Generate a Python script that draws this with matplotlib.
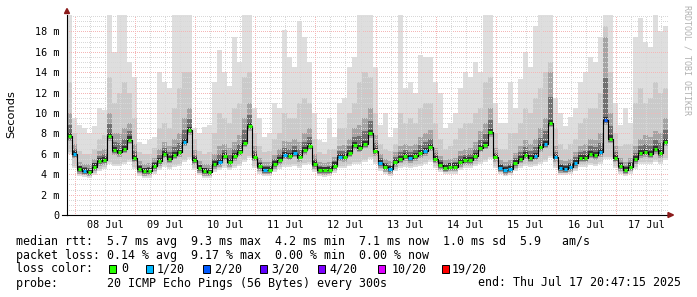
import numpy as np
import matplotlib
matplotlib.use("Agg")
import matplotlib.pyplot as plt
import matplotlib.dates as mdates
from matplotlib.patches import Rectangle, Polygon
from datetime import datetime, timedelta

# ──────────────────────────────────────────────
# Data: 2-hour consolidated steps, 10 days (one row = 24 h)
# ──────────────────────────────────────────────
start = datetime(2025, 7, 7, 20, 47, 15)
end = datetime(2025, 7, 17, 20, 47, 15)
STEP_H = 2

median_ms = [
    7.7, 6.0, 4.5, 4.35, 4.25, 4.75, 5.3, 5.4, 7.75, 6.35, 6.15, 6.5,
    7.4, 5.6, 4.55, 4.3, 4.35, 4.8, 5.3, 6.0, 5.5, 5.9, 6.15, 7.2,
    8.3, 5.4, 4.6, 4.3, 4.25, 5.0, 5.2, 5.8, 5.2, 5.75, 6.2, 7.1,
    8.7, 5.7, 4.8, 4.45, 4.45, 5.0, 5.4, 5.9, 5.8, 6.1, 5.65, 6.35,
    6.8, 5.0, 4.45, 4.4, 4.45, 4.85, 5.7, 5.65, 6.1, 6.85, 6.6, 7.0,
    8.0, 6.25, 5.1, 4.7, 4.5, 5.2, 5.5, 5.75, 5.55, 5.75, 6.05, 6.25,
    6.7, 5.5, 4.9, 4.65, 4.75, 4.75, 5.2, 5.35, 5.4, 5.75, 6.6, 6.9,
    8.1, 5.65, 4.65, 4.4, 4.55, 5.1, 5.5, 5.9, 5.6, 5.8, 6.65, 7.0,
    9.05, 5.65, 4.6, 4.55, 4.7, 5.1, 5.6, 5.6, 6.0, 5.85, 6.15, 9.3,
    7.5, 5.6, 4.8, 4.45, 4.75, 5.45, 6.05, 6.15, 6.0, 6.45, 6.05, 7.2,
]

# lost pings out of 20 per step
loss = [
    0, 1, 0, 1, 0, 0, 0, 0, 0, 0, 0, 0,
    0, 0, 0, 0, 0, 0, 0, 0, 0, 0, 0, 1,
    0, 0, 0, 0, 0, 0, 1, 0, 0, 0, 0, 0,
    0, 0, 0, 1, 0, 0, 0, 1, 0, 1, 0, 0,
    0, 0, 0, 0, 0, 0, 1, 0, 0, 0, 0, 0,
    0, 0, 1, 0, 1, 0, 0, 0, 1, 0, 0, 1,
    0, 0, 0, 0, 0, 0, 0, 0, 0, 0, 0, 0,
    0, 0, 1, 1, 1, 0, 0, 0, 0, 1, 0, 1,
    0, 1, 1, 1, 1, 1, 0, 0, 0, 0, 1, 2,
    0, 0, 0, 0, 0, 0, 0, 0, 0, 0, 0, 0,
]

smoke_lo = [
    6.0, 4.6, 3.8, 3.7, 3.6, 3.9, 4.3, 4.5, 5.0, 4.8, 4.8, 5.0,
    5.2, 4.5, 3.8, 3.6, 3.6, 4.0, 4.4, 4.7, 4.5, 4.7, 4.8, 5.2,
    5.5, 4.4, 3.9, 3.6, 3.6, 4.2, 4.4, 4.6, 4.4, 4.6, 4.8, 5.2,
    5.6, 4.6, 4.0, 3.8, 3.8, 4.2, 4.5, 4.7, 4.7, 4.8, 4.6, 4.9,
    5.0, 4.2, 3.8, 3.7, 3.8, 4.1, 4.6, 4.6, 4.8, 5.0, 5.0, 5.2,
    5.5, 5.0, 4.3, 4.0, 3.8, 4.3, 4.6, 4.7, 4.6, 4.7, 4.8, 5.0,
    5.2, 4.6, 4.2, 4.0, 4.0, 4.0, 4.4, 4.6, 4.6, 4.8, 5.0, 5.2,
    5.5, 4.6, 4.0, 3.8, 3.9, 4.3, 4.6, 4.8, 4.7, 4.8, 5.0, 5.2,
    5.6, 4.6, 3.9, 3.9, 4.0, 4.3, 4.7, 4.7, 4.9, 4.8, 5.0, 5.5,
    5.5, 4.6, 4.0, 3.8, 4.0, 4.5, 5.0, 5.0, 5.0, 5.2, 5.0, 5.4,
]

smoke_q1 = [
    10.0, 7.0, 5.2, 5.0, 5.0, 5.5, 6.3, 6.5, 10.0, 8.0, 8.0, 8.5,
    9.0, 7.0, 5.3, 5.0, 5.1, 5.6, 6.5, 7.2, 6.8, 7.5, 8.0, 9.5,
    10.5, 6.4, 5.3, 5.0, 5.0, 6.0, 6.8, 7.0, 6.6, 7.2, 7.8, 9.5,
    11.0, 6.8, 5.6, 5.2, 5.2, 5.9, 6.5, 7.3, 7.2, 7.5, 7.2, 8.0,
    8.5, 6.0, 5.2, 5.1, 5.2, 5.7, 6.8, 6.9, 7.5, 8.5, 8.8, 9.5,
    10.5, 7.8, 6.0, 5.5, 5.3, 6.2, 6.8, 7.0, 6.8, 7.0, 7.6, 8.0,
    8.3, 6.6, 5.8, 5.4, 5.5, 5.6, 6.3, 6.5, 6.6, 7.2, 8.2, 9.0,
    10.5, 6.6, 5.4, 5.2, 5.4, 6.1, 6.8, 7.4, 7.0, 7.5, 8.5, 9.5,
    14.0, 6.8, 5.4, 5.3, 5.5, 6.2, 6.8, 7.0, 7.5, 7.4, 8.0, 17.5,
    10.0, 6.8, 5.6, 5.2, 5.6, 6.8, 7.5, 7.8, 7.6, 8.2, 8.0, 9.5,
]

smoke_q2 = [
    13.0, 8.0, 6.3, 6.0, 6.0, 6.5, 7.5, 7.8, 13.5, 11.0, 12.0, 13.0,
    12.0, 9.5, 6.2, 6.0, 6.0, 6.6, 8.5, 9.0, 8.5, 10.5, 12.5, 14.0,
    14.0, 7.5, 6.3, 6.0, 6.2, 8.0, 10.0, 9.5, 9.0, 10.5, 11.0, 13.5,
    14.0, 8.0, 6.8, 6.2, 6.3, 7.5, 8.0, 10.0, 9.5, 9.5, 11.0, 11.5,
    11.0, 7.5, 6.2, 6.0, 6.5, 6.5, 8.5, 8.5, 10.0, 11.0, 13.0, 14.0,
    13.5, 10.0, 7.0, 6.5, 6.3, 7.0, 10.0, 9.0, 9.5, 9.0, 10.5, 11.0,
    11.0, 9.0, 7.5, 6.5, 6.8, 7.5, 8.5, 9.0, 9.0, 10.0, 10.5, 13.0,
    13.5, 8.0, 6.5, 6.5, 8.0, 8.0, 9.0, 10.5, 10.0, 11.5, 12.5, 14.0,
    15.0, 8.5, 7.0, 6.5, 7.0, 7.5, 9.0, 9.5, 10.5, 10.5, 12.0, 18.5,
    14.0, 8.0, 6.8, 7.0, 7.0, 11.0, 12.5, 11.0, 11.5, 13.0, 12.0, 12.5,
]

smoke_max = [
    19.6, 9.5, 8.8, 8.5, 8.0, 8.7, 10.5, 10.3, 19.6, 16.0, 19.6, 19.6,
    15.0, 13.5, 7.2, 7.0, 7.4, 7.6, 14.0, 13.0, 12.5, 19.6, 19.6, 19.6,
    19.6, 8.5, 8.0, 8.6, 8.8, 13.0, 16.2, 14.0, 12.6, 17.5, 15.0, 19.6,
    19.6, 10.5, 9.5, 7.6, 8.0, 11.0, 10.5, 18.1, 15.5, 14.5, 19.0, 17.5,
    15.0, 10.0, 7.4, 7.2, 9.5, 7.6, 11.0, 11.5, 14.5, 15.5, 19.6, 19.6,
    19.6, 14.5, 8.8, 10.0, 7.6, 8.5, 19.6, 12.5, 13.0, 12.0, 15.7, 15.5,
    15.5, 13.0, 12.0, 8.5, 9.0, 10.0, 12.5, 14.0, 13.5, 15.0, 14.0, 19.6,
    19.6, 11.0, 9.0, 9.0, 13.0, 10.5, 13.3, 16.0, 14.5, 18.5, 19.6, 19.6,
    19.6, 11.5, 10.0, 8.7, 9.6, 10.5, 13.0, 14.0, 15.5, 15.0, 17.5, 19.6,
    19.6, 11.0, 8.8, 10.5, 9.0, 17.5, 19.3, 17.0, 16.5, 19.6, 18.0, 18.5,
]

loss_levels = ["0", "1/20", "2/20", "3/20", "4/20", "10/20", "19/20"]
loss_colors = ["#26ff00", "#00b8ff", "#0059ff", "#5e00ff", "#7e00ff", "#dd00ff", "#ff0000"]

stats_rtt = "median rtt:  5.7 ms avg  9.3 ms max  4.2 ms min  7.1 ms now  1.0 ms sd  5.9   am/s"
stats_loss = "packet loss: 0.14 % avg  9.17 % max  0.00 % min  0.00 % now"
probe_txt = "probe:       20 ICMP Echo Pings (56 Bytes) every 300s"
end_txt = "end: Thu Jul 17 20:47:15 2025"

# ──────────────────────────────────────────────
# Figure in pixel terms
# ──────────────────────────────────────────────
W, H = 697, 297
MONO = "DejaVu Sans Mono"


def fx(x):
    return x / W


def fy(y):
    return 1 - y / H


fig = plt.figure(figsize=(W / 100, H / 100), dpi=100, facecolor="white")
ax = fig.add_axes([fx(67), fy(215), (668 - 67) / W, (215 - 15) / H])
ax.set_facecolor("white")

n = len(median_ms)
edges = mdates.date2num([start + timedelta(hours=STEP_H * i) for i in range(n + 1)])
xs = np.repeat(edges, 2)[1:-1]


def stepped(vals):
    return np.repeat(np.asarray(vals, dtype=float), 2)


med = stepped(median_ms)
lo = stepped(smoke_lo)

# smoke: light outer -> dark core around the median
ax.fill_between(xs, lo, stepped(smoke_max), color="#dedede", lw=0, zorder=1)
ax.fill_between(xs, lo + 0.2, stepped(smoke_q2), color="#cacaca", lw=0, zorder=1.1)
ax.fill_between(xs, med - 0.45, stepped(smoke_q1), color="#a4a4a4", lw=0, zorder=1.2)
ax.fill_between(xs, med - 0.3, (med + stepped(smoke_q1)) / 2, color="#707070", lw=0, zorder=1.3)
ax.fill_between(xs, med - 0.15, med + 0.3, color="#333333", lw=0, zorder=1.4)

# grid on top of the smoke
GREY = "#d8d8d8"
RED = "#f4b6b6"
for v in np.arange(0.5, 19.6, 0.5):
    ax.axhline(v, color=RED if v % 2 == 0 else GREY, lw=0.72,
               ls=(0, (1, 2)), zorder=2, antialiased=False)
t = datetime(2025, 7, 8, 0, 0)
while t < end:
    ax.axvline(mdates.date2num(t), color=RED if t.hour == 0 else GREY, lw=0.72,
               ls=(0, (1, 2)), zorder=2, antialiased=False)
    t += timedelta(hours=6)

# median line + loss coloured marks
ax.plot(xs, med, color="black", lw=0.8, zorder=3)
w = STEP_H / 24
for i in range(n):
    c = loss_colors[loss[i]]
    ax.hlines(median_ms[i], edges[i] + 0.15 * w, edges[i + 1] - 0.15 * w,
              colors=c, lw=2.2, zorder=4)

ax.set_xlim(mdates.date2num(start), mdates.date2num(end))
ax.set_ylim(0, 200 / 10.2)

# axes / ticks
for s in ["top", "right"]:
    ax.spines[s].set_visible(False)
for s in ["left", "bottom"]:
    ax.spines[s].set_color("black")
    ax.spines[s].set_linewidth(0.8)
    ax.spines[s].set_zorder(5)

yt = list(range(0, 19, 2))
ax.set_yticks(yt)
ax.set_yticklabels(["0"] + [f"{v} m" for v in yt[1:]], fontfamily=MONO, fontsize=7.3)
noons = [datetime(2025, 7, d, 12, 0) for d in range(8, 18)]
ax.set_xticks(mdates.date2num(noons))
ax.set_xticklabels([d.strftime("%d %b") for d in noons], fontfamily=MONO, fontsize=7.3)
ax.tick_params(axis="y", length=0, pad=5.2, colors="black")
ax.tick_params(axis="x", length=0, pad=3.5, colors="black")

fig.text(fx(11), fy(114), "Seconds", rotation=90, ha="center", va="center",
         fontsize=8.2, family="DejaVu Sans")
fig.text(fx(687), fy(60), "RRDTOOL / TOBI OETIKER", rotation=270, ha="center",
         va="center", fontsize=6.0, family=MONO, color="#b0b0b0")

# axis extension and arrows
fig.add_artist(plt.Line2D([fx(62), fx(67)], [fy(215), fy(215)], color="black",
                          lw=0.8, transform=fig.transFigure))
fig.add_artist(Polygon([(fx(64.5), fy(13.5)), (fx(69.5), fy(13.5)), (fx(67), fy(8.5))],
                       closed=True, color="#8b1a1a", transform=fig.transFigure))
fig.add_artist(Polygon([(fx(668), fy(212.5)), (fx(668), fy(217.5)), (fx(673.5), fy(215))],
                       closed=True, color="#8b1a1a", transform=fig.transFigure))

# legend block
LEG = 8.4
fig.text(fx(15.5), fy(241), stats_rtt, family=MONO, fontsize=LEG, va="center")
fig.text(fx(15.5), fy(255), stats_loss, family=MONO, fontsize=LEG, va="center")
fig.text(fx(15.5), fy(268.5), "loss color:", family=MONO, fontsize=LEG, va="center")
fig.text(fx(15.5), fy(283), probe_txt, family=MONO, fontsize=LEG, va="center")
fig.text(fx(478), fy(283), end_txt, family=MONO, fontsize=LEG, va="center")

sq_x = [109, 146, 203, 260, 318, 378, 442]
lab_x = [121, 157, 214, 271, 329, 392, 452]
for sx, lx, lab, col in zip(sq_x, lab_x, loss_levels, loss_colors):
    fig.add_artist(Rectangle((fx(sx), fy(272.5)), 7 / W, 8 / H, facecolor=col,
                             edgecolor="black", lw=0.7, transform=fig.transFigure))
    fig.text(fx(lx), fy(268.5), lab, family=MONO, fontsize=LEG, va="center")

fig.savefig("out.png", dpi=100, facecolor="white")
